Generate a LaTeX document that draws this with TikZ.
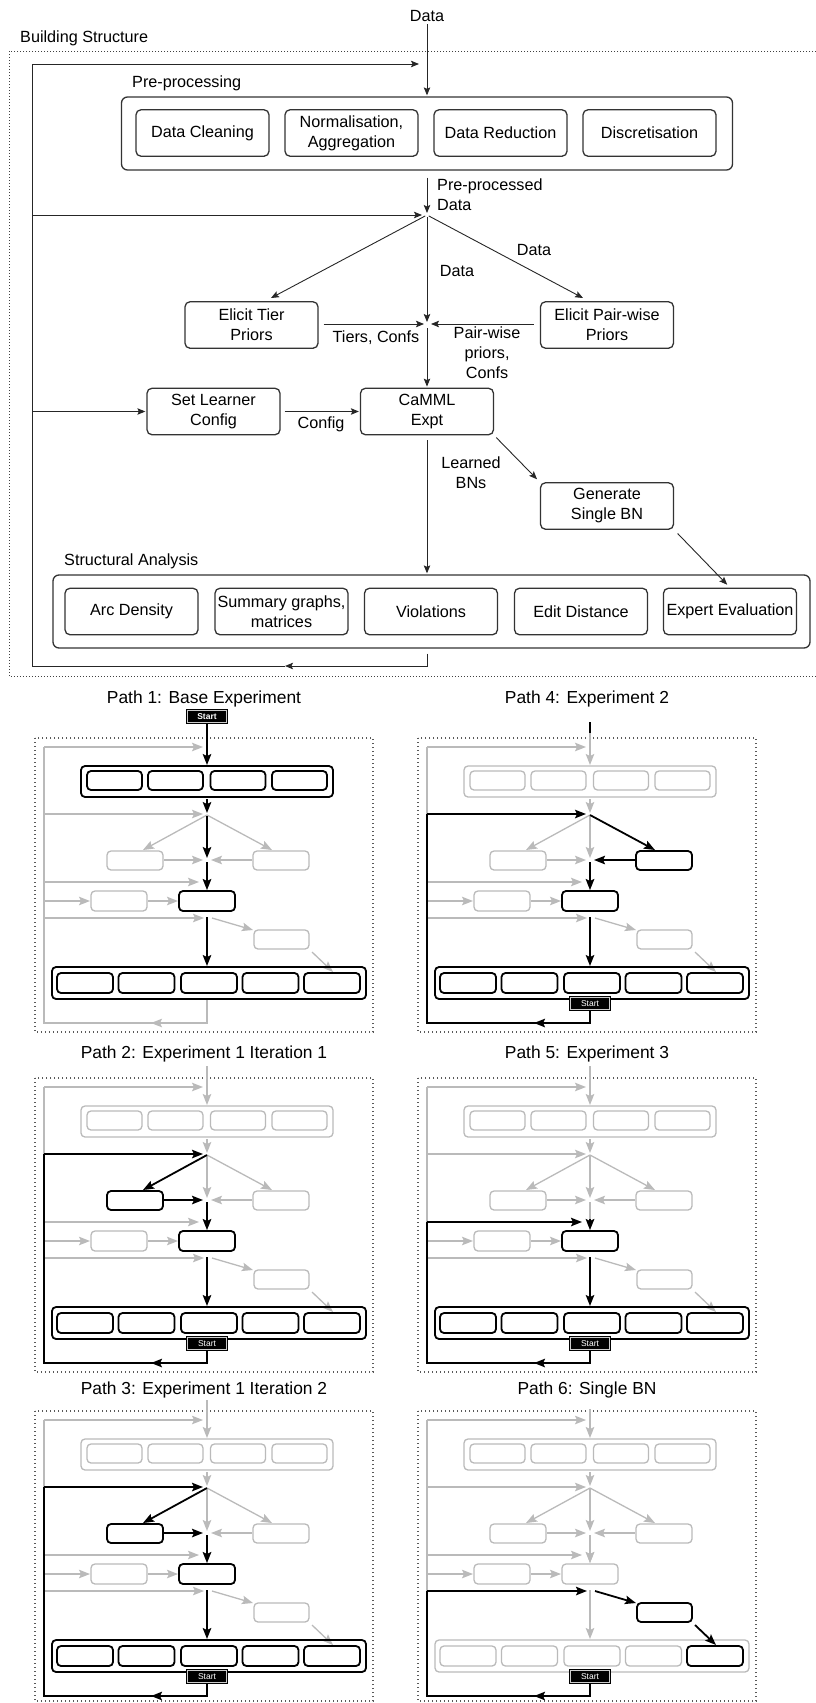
\documentclass[tikz,border=0pt]{standalone}
\usepackage{fontspec}
\setmainfont{Liberation Sans}
\usetikzlibrary{arrows.meta,calc}

% highlight test: is #1 in the comma list \hllist ?
\makeatletter
\newcommand\checkhl[3]{\edef\hl@test{\noexpand\in@{,#1,}{,\hllist,}}\hl@test\ifin@#2\else#3\fi}
\makeatother

\tikzset{
  tf/.style={font=\fontsize{16.2}{20}\selectfont},
  ttl/.style={font=\fontsize{17.4}{20}\selectfont, inner sep=0pt},
  lbl/.style={tf, inner sep=0pt, align=center},
  tline/.style={draw=black!85, line width=0.9pt},
  tarr/.style={tline, -{Stealth[length=8pt,width=6.5pt,inset=1.5pt]}},
  tbox/.style={draw=black!80, line width=1.3pt, rounded corners=5pt, minimum width=133pt,
               minimum height=46.5pt, inner sep=0pt, align=center, tf},
  outerbox/.style={draw=black!80, line width=1.3pt, rounded corners=6pt, inner sep=0pt},
  dotframe/.style={draw=black!75, line width=0.8pt, dash pattern=on 0.8pt off 2.2pt},
  % thumbnail panels
  pframe/.style={draw=black!65, line width=1.2pt, dash pattern=on 1.2pt off 2.8pt},
  gry/.style={draw=black!27, line width=1.3pt},
  blk/.style={draw=black, line width=1.8pt},
  pa/.style={-{Stealth[length=11pt,width=8.5pt,inset=2pt]}},
  pbox/.style={rounded corners=4pt},
  st/.code={\checkhl{#1}{\pgfkeysalso{hlsty}}{\pgfkeysalso{losty}}},
  hlsty/.style={blk}, losty/.style={gry},
  startbox/.style={fill=black, draw=black, double=black!20, double distance=0.5pt,
                   line width=0.9pt, minimum width=39pt, minimum height=12pt, inner sep=0pt,
                   text=white, font=\fontsize{8.5}{9}\selectfont},
}

% one thumbnail of the workflow, in local coordinates
\newcommand\panelbody{%
  \draw[st=L1] (9,76) -- (9,9);
  \draw[st=a9,pa] (9,9) -- (168,9);
  \draw[st=in,pa] (172,-2) -- (172,27);
  \draw[st=pp,pbox] (46,28) rectangle (298,59);
  \foreach \c in {79.5,140.5,203,264.5} \draw[st=pp,pbox] (\c-27.5,33) rectangle (\c+27.5,52);
  \draw[st=ppJ,pa] (172,61) -- (172,75);
  \draw[st=a76,pa] (9,76) -- (168,76);
  \draw[st=dT,pa] (172,77) -- (108,112);
  \draw[st=dP,pa] (172,77) -- (237,112);
  \draw[st=tB,pbox] (72,113) rectangle (128,132);
  \draw[st=pB,pbox] (218,113) rectangle (274,132);
  \draw[st=tA,pa] (129,122) -- (168,122);
  \draw[st=pA,pa] (217,122) -- (176,122);
  \draw[st=v12,pa] (172,78) -- (172,120);
  \draw[st=v2C,pa] (172,124) -- (172,152);
  \draw[st=cH,pa] (172,141) -- (172,152);
  \draw[st=L2] (9,144) -- (9,76);
  \draw[st=a144,pa] (9,144) -- (164,144);
  \draw[st=sB,pbox] (56,153) rectangle (112,173);
  \draw[st=cB,pbox] (144,153) rectangle (200,173);
  \draw[st=a163,pa] (9,163) -- (55,163);
  \draw[st=sC,pa] (113,163) -- (143,163);
  \draw[st=L3] (9,180) -- (9,144);
  \draw[st=a180,pa] (9,180) -- (169,180);
  \draw[st=v3S,pa] (172,179) -- (172,228);
  \draw[st=dG,pa] (177,180) -- (218,192);
  \draw[st=gB,pbox] (219,192) rectangle (274,211);
  \draw[st=dS,pa] (277,214) -- (298,234);
  \draw[st=saO,pbox] (17,229) rectangle (331,261);
  \foreach \c in {50,111.5,174,235.5} \draw[st=sa,pbox] (\c-28,235) rectangle (\c+28,255);
  \draw[st=s5,pbox] (269,235) rectangle (325,255);
  \draw[st=fb,pa] (172,261) |- (116,285);
  \draw[st=fb] (120,285) -- (9,285) -- (9,180);
}

% #1,#2 origin, #3 frame height, #4 highlighted parts, #5 extra drawing
\newcommand\drawpanel[5]{%
  \begin{scope}[shift={(#1,#2)}]
    \def\hllist{#4}%
    \draw[pframe] (0,0) rectangle (338,#3);
    \tikzset{hlsty/.style={draw=none}, losty/.style={gry}}%
    \panelbody
    \tikzset{hlsty/.style={blk}, losty/.style={draw=none}}%
    \panelbody
    #5
  \end{scope}}

\begin{document}
\begin{tikzpicture}[x=1pt,y=-1pt]
\useasboundingbox (0,0) rectangle (816,1703);

% ---------------- Building structure ----------------
\draw[dotframe] (9,51) rectangle (818,676);
\node[tf,anchor=base,inner sep=0pt] (data) at (427,21) {Data};
\node[tf,anchor=base west,inner sep=0pt] (bs) at (20,42) {Building Structure};
\node[tf,anchor=base west,inner sep=0pt] (ppl) at (132,87) {Pre-processing};

\node[outerbox, minimum width=611pt, minimum height=73pt] (ppo) at (427,133.5) {};
\node[tbox] (dc) at (202.5,133) {Data Cleaning};
\node[tbox] (na) at (351.5,133) {Normalisation,\\Aggregation};
\node[tbox] (dr) at (500.5,133) {Data Reduction};
\node[tbox] (ds) at (649.5,133) {Discretisation};

\coordinate (LT) at (32,64);
\coordinate (LB) at (32,666);
\coordinate (T0) at (427,64);
\coordinate (J1) at (427,215);
\coordinate (J2) at (427,324);
\coordinate (B0) at (427,666);
\coordinate (BM) at (285,666);
\coordinate (tT) at (271,298);
\coordinate (pT) at (583,298);

\node[tbox] (tier) at (251.5,325) {Elicit Tier\\Priors};
\node[tbox] (pair) at (607,325) {Elicit Pair-wise\\Priors};
\node[tbox] (sl) at (213.5,411.5) {Set Learner\\Config};
\node[tbox] (cam) at (427,411.5) {CaMML\\Expt};
\node[tbox] (gen) at (607,506) {Generate\\Single BN};

\node[tf,anchor=base west,inner sep=0pt] (sal) at (64,565) {Structural Analysis};
\node[outerbox, minimum width=757pt, minimum height=73pt] (sao) at (431.5,611.5) {};
\node[tbox] (ad) at (131.5,611.5) {Arc Density};
\node[tbox] (sg) at (281.5,611.5) {Summary graphs,\\matrices};
\node[tbox] (vi) at (431,611.5) {Violations};
\node[tbox] (ed) at (581,611.5) {Edit Distance};
\node[tbox] (ee) at (730,611.5) {Expert Evaluation};

% connectors
\draw[tarr, shorten <=3pt, shorten >=1pt] (data.south) -- (ppo.north);
\draw[tarr, shorten >=8pt] (LB) -- (LT) -- (T0);
\draw[tarr, shorten <=7pt, shorten >=2pt] (ppo.south) -- (J1);
\draw[tarr, shorten >=5pt] (J1 -| LT) -- (J1);
\draw[tarr, shorten <=2pt] (J1) -- (tT);
\draw[tarr, shorten <=2pt] (J1) -- (pT);
\draw[tarr, shorten <=2pt, shorten >=2pt] (J1) -- (J2);
\draw[tarr, shorten <=5pt, shorten >=3pt] (tier.east |- J2) -- (J2);
\draw[tarr, shorten <=6pt, shorten >=4pt] (pair.west |- J2) -- (J2);
\draw[tarr, shorten <=4pt, shorten >=1pt] (J2) -- (cam.north);
\draw[tarr, shorten >=1pt] (sl.west -| LT) -- (sl.west);
\draw[tarr, shorten <=4pt, shorten >=1pt] (sl.east) -- (cam.west);
\draw[tarr, shorten <=5pt, shorten >=1pt] (cam.south) -- (cam.south |- sao.north);
\draw[tarr, shorten <=3pt, shorten >=4pt] (cam.south east) -- (gen.north west);
\draw[tarr, shorten <=5pt, shorten >=4pt] (gen.south east) -- (ee.north);
\draw[tarr, shorten <=5pt] (sao.south -| B0) -- (B0) -- (BM);
\draw[tline] (BM) -- (LB);

% connector labels
\node[lbl, align=left, anchor=west] (lpp) at (437,195) {Pre-processed\\Data};
\node[lbl, anchor=base] (ld1) at (534,255) {Data};
\node[lbl, anchor=base] (ld2) at (457,276) {Data};
\node[lbl, anchor=base] (lti) at (376,342) {Tiers, Confs};
\node[lbl] (lpw) at (487,353) {Pair-wise\\priors,\\Confs};
\node[lbl, anchor=base] (lcf) at (321,428) {Config};
\node[lbl] (lbn) at (471,473) {Learned\\BNs};

% ---------------- Paths ----------------
\node[ttl, anchor=base] (t1) at (204,703) {Path 1: Base Experiment};
\node[ttl, anchor=base] (t4) at (587,703) {Path 4: Experiment 2};
\node[ttl, anchor=base] (t2) at (204,1058) {Path 2: Experiment 1 Iteration 1};
\node[ttl, anchor=base] (t5) at (587,1058) {Path 5: Experiment 3};
\node[ttl, anchor=base] (t3) at (204,1394) {Path 3: Experiment 1 Iteration 2};
\node[ttl, anchor=base] (t6) at (587,1394) {Path 6: Single BN};

\drawpanel{35}{738}{294}{in,pp,ppJ,v12,v2C,cB,v3S,saO,sa,s5}{%
  \node[startbox] (s1) at (172,-21.5) {\bfseries Start};
  \coordinate (s1e) at (172,-2);
  \draw[blk] (s1.south) -- (s1e);}

\drawpanel{418}{738}{294}{fb,L3,L2,a76,dP,pB,pA,v2C,cB,v3S,saO,sa,s5}{%
  \draw[gry] (172,-5) -- (172,-2);
  \draw[blk] (172,-16) -- (172,-5);
  \node[startbox] (s4) at (172,265.5) {Start};}

\drawpanel{35}{1078}{294}{fb,L3,L2,a76,dT,tB,tA,v2C,cB,v3S,saO,sa,s5}{%
  \draw[gry] (172,-12) -- (172,-2);
  \node[startbox] (s2) at (172,265.5) {Start};}

\drawpanel{418}{1078}{294}{fb,L3,a144,cH,cB,v3S,saO,sa,s5}{%
  \draw[gry] (172,-12) -- (172,-2);
  \node[startbox] (s5) at (172,265.5) {Start};}

\drawpanel{35}{1411}{290}{fb,L3,L2,a76,dT,tB,tA,v2C,cB,v3S,saO,sa,s5}{%
  \draw[gry] (172,-11) -- (172,-2);
  \node[startbox] (s3) at (172,265.5) {Start};}

\drawpanel{418}{1411}{290}{fb,a180,dG,gB,dS,s5}{%
  \node[startbox] (s6) at (172,265.5) {Start};}

\end{tikzpicture}
\end{document}
